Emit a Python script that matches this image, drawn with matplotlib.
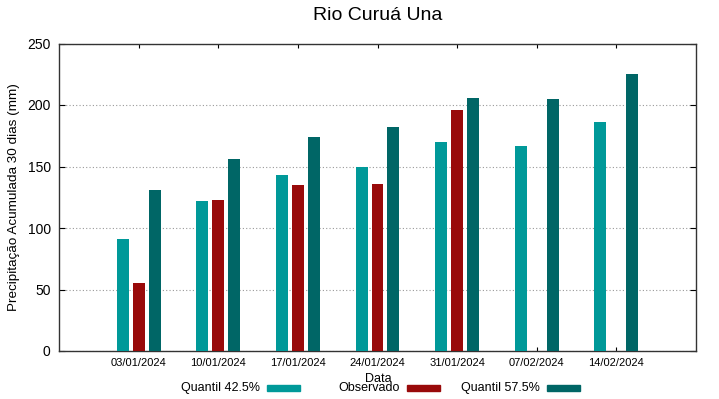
import matplotlib.pyplot as plt
import matplotlib.transforms as mtransforms
from matplotlib.patches import Rectangle
import numpy as np

plt.rcParams['font.family'] = ['Liberation Sans', 'DejaVu Sans']

dates = ["03/01/2024", "10/01/2024", "17/01/2024", "24/01/2024",
         "31/01/2024", "07/02/2024", "14/02/2024"]
q425 = [91, 122, 143, 150, 170, 167, 186]
observado = [55, 123, 135, 136, 196, np.nan, np.nan]
q575 = [131, 156, 174, 182, 206, 205, 225]

series = [
    ("Quantil 42.5%", q425, '#009999'),
    ("Observado", observado, '#990a0a'),
    ("Quantil 57.5%", q575, '#006666'),
]


def main():
    fig = plt.figure(figsize=(7.19, 3.99), dpi=100)
    ax = fig.add_axes([59 / 719, 1 - 351 / 399, (696 - 59) / 719, (351 - 43.5) / 399])

    x = np.arange(len(dates))
    width = 0.15
    offsets = [-0.2, 0.0, 0.2]
    for (label, vals, color), off in zip(series, offsets):
        ax.bar(x + off, vals, width, color=color, zorder=3)

    ax.set_xlim(-1, 7)
    ax.set_ylim(0, 250)
    ax.set_yticks([0, 50, 100, 150, 200, 250])
    ax.set_xticks(x)
    ax.set_xticklabels(dates, fontsize=8)
    shift = mtransforms.ScaledTranslation(8 / 100, 0, fig.dpi_scale_trans)
    for lbl in ax.get_xticklabels():
        lbl.set_transform(lbl.get_transform() + shift)

    ax.tick_params(axis='y', direction='in', length=4, right=True, labelsize=10, pad=6)
    ax.tick_params(axis='x', direction='in', length=3, top=True, pad=5)
    ax.grid(axis='y', linestyle=(0, (1, 2)), color='#999999', linewidth=0.8, zorder=0)
    for s in ax.spines.values():
        s.set_color('#333333')
        s.set_linewidth(1)

    ax.set_ylabel("Precipitação Acumulada 30 dias (mm)", fontsize=9.7, labelpad=5)
    fig.text(378 / 719, 1 - 379 / 399, "Data", ha='center', va='center', fontsize=9)
    fig.text(378 / 719, 1 - 16 / 399, "Rio Curuá Una", ha='center', va='center', fontsize=14)

    # gnuplot style key: text right aligned, colour sample after it
    for i, (label, vals, color) in enumerate(series):
        x_end = (260 + 140 * i) / 719
        fig.text(x_end, 1 - 388 / 399, label, ha='right', va='center', fontsize=9)
        fig.patches.append(Rectangle(((267 + 140 * i) / 719, 1 - 391 / 399), 33 / 719, 6 / 399,
                                     transform=fig.transFigure, color=color))

    fig.savefig("out.png", dpi=100)


if __name__ == '__main__':
    main()
